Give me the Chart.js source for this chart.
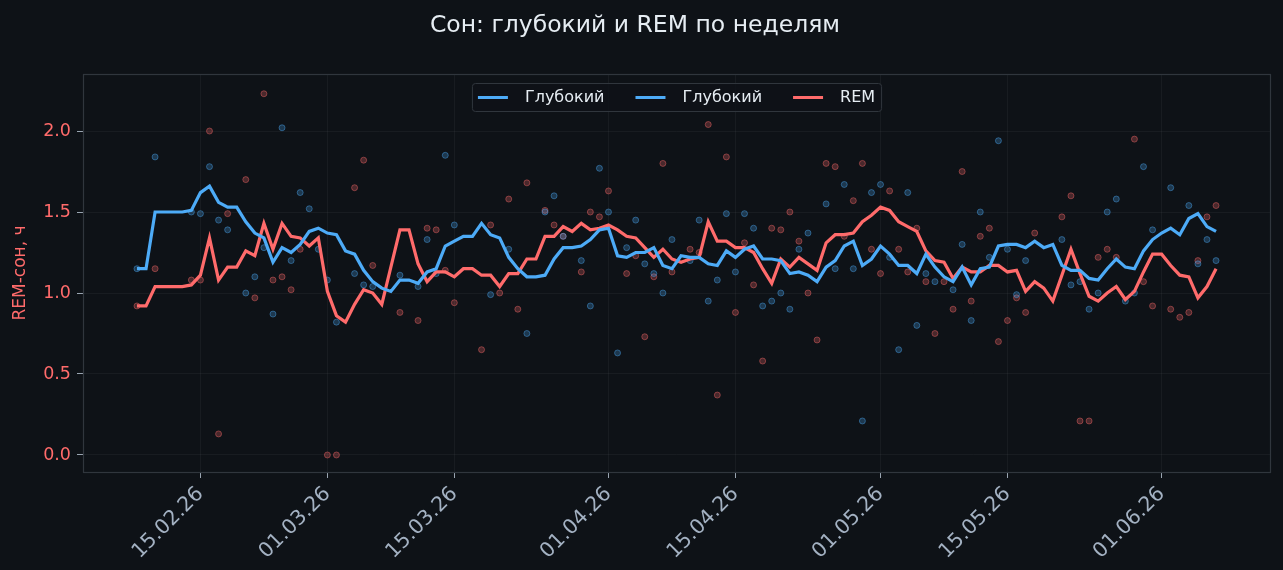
<!DOCTYPE html>
<html>
<head>
<meta charset="utf-8">
<script src="https://cdn.jsdelivr.net/npm/chart.js@4.4.1/dist/chart.umd.min.js"></script>
<style>
html, body { margin: 0; padding: 0; background: #0e1217; }
</style>
</head>
<body>
<canvas id="sleepChart" width="1283" height="570"></canvas>
<script>
'use strict';
// дни с 08.02.26, по одному значению на день (null - нет записи)
const startDay = [2026, 1, 8];
const dayCount = 120;
const tickLabels = ['15.02.26', '01.03.26', '15.03.26', '01.04.26', '15.04.26', '01.05.26', '15.05.26', '01.06.26'];
const yTicks = [0, 0.5, 1.0, 1.5, 2.0];

const deepDaily = [
    1.15, null, 1.84, null, null, null, 1.50, 1.49, 1.78, 1.45,
    1.39, null, 1.00, 1.10, 1.28, 0.87, 2.02, 1.20, 1.62, 1.52,
    1.27, 1.08, 0.82, null, 1.12, 1.05, 1.04, null, null, 1.11,
    null, 1.04, 1.33, 1.12, 1.85, 1.42, null, null, null, 0.99,
    null, 1.27, null, 0.75, null, 1.50, 1.60, 1.35, null, 1.20,
    0.92, 1.77, 1.50, 0.63, 1.28, 1.45, 1.18, 1.12, 1.00, 1.33,
    null, 1.20, 1.45, 0.95, 1.08, 1.49, 1.13, 1.49, 1.40, 0.92,
    0.95, 1.00, 0.90, 1.27, 1.37, null, 1.55, 1.15, 1.67, 1.15,
    0.21, 1.62, 1.67, 1.22, 0.65, 1.62, 0.80, 1.12, 1.07, null,
    1.02, 1.30, 0.83, 1.50, 1.22, 1.94, 1.27, 0.99, 1.20, null,
    null, null, 1.33, 1.05, 1.07, 0.90, 1.00, 1.50, 1.58, 0.95,
    1.00, 1.78, 1.39, null, 1.65, null, 1.54, 1.18, 1.33, 1.20
];
const remDaily = [
    0.92, null, 1.15, null, null, null, 1.08, 1.08, 2.00, 0.13,
    1.49, null, 1.70, 0.97, 2.23, 1.08, 1.10, 1.02, 1.27, null,
    null, 0.00, 0.00, null, 1.65, 1.82, 1.17, null, null, 0.88,
    null, 0.83, 1.40, 1.39, 1.14, 0.94, null, null, 0.65, 1.42,
    1.00, 1.58, 0.90, 1.68, null, 1.51, 1.42, 1.35, null, 1.13,
    1.50, 1.47, 1.63, null, 1.12, 1.23, 0.73, 1.10, 1.80, 1.13,
    null, 1.27, 1.25, 2.04, 0.37, 1.84, 0.88, 1.31, 1.05, 0.58,
    1.40, 1.39, 1.50, 1.32, 1.00, 0.71, 1.80, 1.78, 1.35, 1.57,
    1.80, 1.27, 1.12, 1.63, 1.27, 1.13, 1.40, 1.07, 0.75, 1.07,
    0.90, 1.75, 0.95, 1.35, 1.40, 0.70, 0.83, 0.97, 0.88, 1.37,
    null, null, 1.47, 1.60, 0.21, 0.21, 1.22, 1.27, 1.22, null,
    1.95, 1.07, 0.92, null, 0.90, 0.85, 0.88, 1.20, 1.47, 1.54
];
const deepAvg = [
    1.15, 1.15, 1.50, 1.50, 1.50, 1.50, 1.51, 1.62, 1.66, 1.56,
    1.53, 1.53, 1.44, 1.37, 1.34, 1.19, 1.28, 1.25, 1.30, 1.38,
    1.40, 1.37, 1.36, 1.26, 1.24, 1.14, 1.07, 1.03, 1.01, 1.08,
    1.08, 1.06, 1.13, 1.15, 1.29, 1.32, 1.35, 1.35, 1.43, 1.36,
    1.34, 1.22, 1.15, 1.10, 1.10, 1.11, 1.21, 1.28, 1.28, 1.29,
    1.33, 1.39, 1.40, 1.23, 1.22, 1.25, 1.25, 1.28, 1.17, 1.15,
    1.23, 1.22, 1.22, 1.18, 1.17, 1.26, 1.22, 1.27, 1.29, 1.21,
    1.21, 1.20, 1.12, 1.13, 1.11, 1.07, 1.16, 1.20, 1.29, 1.32,
    1.17, 1.21, 1.29, 1.24, 1.17, 1.17, 1.12, 1.24, 1.16, 1.10,
    1.07, 1.16, 1.05, 1.15, 1.16, 1.29, 1.30, 1.30, 1.28, 1.32,
    1.28, 1.30, 1.17, 1.14, 1.14, 1.09, 1.08, 1.15, 1.21, 1.16,
    1.15, 1.26, 1.33, 1.37, 1.40, 1.36, 1.46, 1.49, 1.41, 1.38
];
const remAvg = [
    0.92, 0.92, 1.04, 1.04, 1.04, 1.04, 1.05, 1.11, 1.34, 1.08,
    1.16, 1.16, 1.26, 1.23, 1.43, 1.27, 1.43, 1.35, 1.34, 1.29,
    1.34, 1.01, 0.86, 0.82, 0.93, 1.02, 1.00, 0.93, 1.16, 1.39,
    1.39, 1.18, 1.07, 1.13, 1.13, 1.10, 1.15, 1.15, 1.11, 1.11,
    1.04, 1.12, 1.12, 1.21, 1.21, 1.35, 1.35, 1.41, 1.38, 1.43,
    1.39, 1.40, 1.42, 1.39, 1.35, 1.34, 1.28, 1.22, 1.27, 1.21,
    1.19, 1.21, 1.22, 1.44, 1.32, 1.32, 1.28, 1.28, 1.25, 1.15,
    1.06, 1.21, 1.16, 1.22, 1.18, 1.14, 1.31, 1.36, 1.36, 1.37,
    1.44, 1.48, 1.53, 1.51, 1.44, 1.41, 1.38, 1.26, 1.20, 1.19,
    1.09, 1.16, 1.13, 1.13, 1.17, 1.17, 1.13, 1.14, 1.01, 1.07,
    1.03, 0.95, 1.11, 1.27, 1.12, 0.98, 0.95, 1.00, 1.04, 0.96,
    1.01, 1.13, 1.24, 1.24, 1.17, 1.11, 1.10, 0.97, 1.04, 1.15
];

const BG = '#0e1217';
const BLUE = '#4dabf7';
const RED = '#ff6b6b';
const FRAME = '#30363d';

function pad(n) {
    return (n < 10 ? '0' : '') + n;
}
const dates = [];
for (let i = 0; i < dayCount; i++) {
    const d = new Date(startDay[0], startDay[1], startDay[2] + i);
    dates.push(pad(d.getDate()) + '.' + pad(d.getMonth() + 1) + '.' + String(d.getFullYear()).slice(2));
}
function toPoints(values) {
    const pts = [];
    for (let i = 0; i < values.length; i++) {
        if (values[i] !== null) {
            pts.push({ x: i, y: values[i] });
        }
    }
    return pts;
}

const bgPlugin = {
    id: 'bg',
    beforeDraw: function (chart) {
        const ctx = chart.ctx;
        ctx.save();
        ctx.fillStyle = BG;
        ctx.fillRect(0, 0, chart.width, chart.height);
        ctx.restore();
    },
    afterDraw: function (chart) {
        const a = chart.chartArea;
        const ctx = chart.ctx;
        ctx.save();
        ctx.strokeStyle = FRAME;
        ctx.lineWidth = 1.2;
        ctx.strokeRect(a.left + 0.5, a.top + 0.5, a.right - a.left, a.bottom - a.top);
        ctx.restore();
    }
};

// легенда внутри области графика, сверху по центру
const legendPlugin = {
    id: 'boxLegend',
    afterDraw: function (chart) {
        const items = [
            { text: 'Глубокий', color: BLUE },
            { text: 'Глубокий', color: BLUE },
            { text: 'REM', color: RED }
        ];
        const ctx = chart.ctx;
        const a = chart.chartArea;
        ctx.save();
        ctx.font = '16px "DejaVu Sans"';
        const sample = 30, gap = 17, between = 31, padX = 6, h = 28;
        let total = padX * 2;
        items.forEach(function (it, k) {
            it.w = ctx.measureText(it.text).width;
            total += sample + gap + it.w + (k < items.length - 1 ? between : 0);
        });
        const left = (a.left + a.right) / 2 - total / 2;
        const top = a.top + 9;
        ctx.fillStyle = 'rgba(14,18,23,0.85)';
        ctx.strokeStyle = FRAME;
        ctx.lineWidth = 1;
        ctx.beginPath();
        ctx.roundRect(left + 0.5, top + 0.5, total, h, 3);
        ctx.fill();
        ctx.stroke();
        let x = left + padX;
        const cy = top + h / 2 + 0.5;
        items.forEach(function (it) {
            ctx.strokeStyle = it.color;
            ctx.lineWidth = 3;
            ctx.beginPath();
            ctx.moveTo(x, cy);
            ctx.lineTo(x + sample, cy);
            ctx.stroke();
            x += sample + gap;
            ctx.fillStyle = '#e6edf3';
            ctx.textBaseline = 'middle';
            ctx.fillText(it.text, x, cy);
            x += it.w + between;
        });
        ctx.restore();
    }
};

Chart.defaults.font.family = '"DejaVu Sans", sans-serif';

const chart = new Chart(document.getElementById('sleepChart'), {
    type: 'line',
    data: {
        datasets: [
            {
                label: 'Глубокий',
                data: toPoints(deepAvg),
                borderColor: BLUE,
                borderWidth: 3.2,
                pointRadius: 0,
                tension: 0,
                order: 0
            },
            {
                label: 'REM',
                data: toPoints(remAvg),
                borderColor: RED,
                borderWidth: 3.2,
                pointRadius: 0,
                tension: 0,
                order: 0
            },
            {
                label: 'Глубокий (день)',
                data: toPoints(deepDaily),
                showLine: false,
                pointRadius: 3,
                borderWidth: 1,
                backgroundColor: 'rgba(77,171,247,0.25)',
                borderColor: 'rgba(77,171,247,0.42)',
                order: 1
            },
            {
                label: 'REM (день)',
                data: toPoints(remDaily),
                showLine: false,
                pointRadius: 3,
                borderWidth: 1,
                backgroundColor: 'rgba(255,107,107,0.25)',
                borderColor: 'rgba(255,107,107,0.42)',
                order: 1
            }
        ]
    },
    options: {
        responsive: false,
        animation: false,
        layout: { padding: { left: 0, right: 13, top: 0, bottom: 0 } },
        plugins: {
            legend: { display: false },
            tooltip: { enabled: false },
            title: {
                display: true,
                text: 'Сон: глубокий и REM по неделям',
                color: '#e6edf3',
                font: { size: 23.5, weight: 'normal' },
                padding: { top: 12, bottom: 33.8 }
            }
        },
        scales: {
            x: {
                type: 'linear',
                min: -5.95,
                max: 124.95,
                afterBuildTicks: function (scale) {
                    scale.ticks = tickLabels.map(function (l) {
                        return { value: dates.indexOf(l) };
                    });
                },
                afterFit: function (scale) {
                    scale.height = 98;
                },
                border: { display: false },
                grid: {
                    color: 'rgba(255,255,255,0.045)',
                    tickColor: '#9aa5b1',
                    tickLength: 6
                },
                ticks: {
                    autoSkip: false,
                    maxRotation: 45,
                    minRotation: 45,
                    padding: 4,
                    color: '#a3b1c2',
                    font: { size: 20.5 },
                    callback: function (v) {
                        return dates[v];
                    }
                }
            },
            y: {
                min: -0.105,
                max: 2.352,
                afterBuildTicks: function (scale) {
                    scale.ticks = yTicks.map(function (v) {
                        return { value: v };
                    });
                },
                afterFit: function (scale) {
                    scale.width = 83;
                },
                border: { display: false },
                grid: {
                    color: 'rgba(255,255,255,0.045)',
                    tickColor: '#9aa5b1',
                    tickLength: 6
                },
                ticks: {
                    color: RED,
                    padding: 6,
                    font: { size: 17.5 },
                    callback: function (v) {
                        return v.toFixed(1);
                    }
                },
                title: {
                    display: true,
                    text: 'REM-сон, ч',
                    color: RED,
                    font: { size: 17 },
                    padding: { top: 10, bottom: 0 }
                }
            }
        }
    },
    plugins: [bgPlugin, legendPlugin]
});
</script>
</body>
</html>
